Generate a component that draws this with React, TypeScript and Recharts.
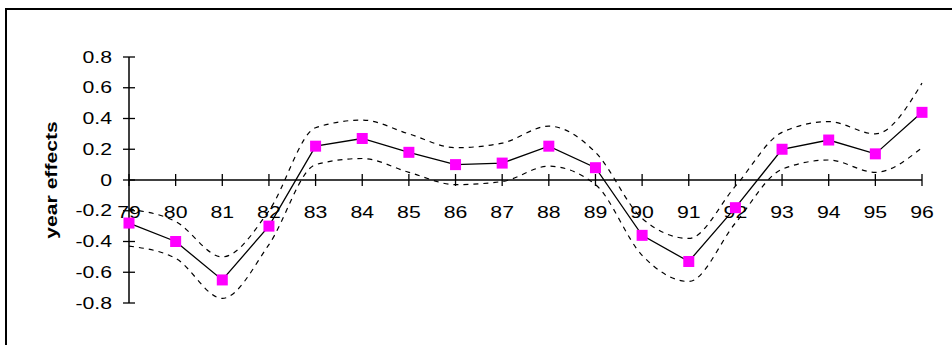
import React from "react";
import {
  LineChart,
  Line,
  XAxis,
  YAxis,
  ReferenceLine,
  ReferenceDot,
} from "recharts";

const years = [
  "79", "80", "81", "82", "83", "84", "85", "86", "87",
  "88", "89", "90", "91", "92", "93", "94", "95", "96",
];

// estimated year effect and its upper / lower band
const effect = [
  -0.28, -0.4, -0.65, -0.3, 0.22, 0.27, 0.18, 0.1, 0.11,
  0.22, 0.08, -0.36, -0.53, -0.18, 0.2, 0.26, 0.17, 0.44,
];
const upper = [
  -0.19, -0.27, -0.5, -0.2, 0.34, 0.39, 0.3, 0.21, 0.24,
  0.35, 0.18, -0.25, -0.38, -0.04, 0.31, 0.38, 0.3, 0.63,
];
const lower = [
  -0.43, -0.51, -0.77, -0.42, 0.1, 0.14, 0.05, -0.03, -0.01,
  0.09, -0.03, -0.49, -0.66, -0.28, 0.07, 0.13, 0.05, 0.21,
];

const yTicks = [-0.8, -0.6, -0.4, -0.2, 0, 0.2, 0.4, 0.6, 0.8];

const data = years.map((year, i) => ({
  year,
  effect: effect[i],
  upper: upper[i],
  lower: lower[i],
}));

const FONT = '"Liberation Sans", Arial, sans-serif';

const YTick = (props: any) => {
  const { x, y, payload } = props;
  const v = payload.value as number;
  const label = v === 0 ? "0" : v.toFixed(1);
  return (
    <g>
      <line x1={x - 6} x2={x + 6} y1={y} y2={y} stroke="#000" strokeWidth={1.3} />
      <text
        transform={`translate(${x - 17},${y}) scale(1.25,1)`}
        textAnchor="end"
        dominantBaseline="central"
        fontFamily={FONT}
        fontSize={17}
        fill="#000"
      >
        {label}
      </text>
    </g>
  );
};

// tick mark + label sitting on the zero line
const makeXTick = (label: string) => (props: any) => {
  const { cx, cy } = props;
  return (
    <g>
      <line x1={cx} x2={cx} y1={cy - 6} y2={cy + 6} stroke="#000" strokeWidth={1.3} />
      <text
        transform={`translate(${cx},${cy + 32}) scale(1.25,1)`}
        textAnchor="middle"
        dominantBaseline="central"
        fontFamily={FONT}
        fontSize={17}
        fill="#000"
      >
        {label}
      </text>
    </g>
  );
};

const SquareDot = (props: any) => {
  const { cx, cy, index } = props;
  if (cx == null || cy == null) return <g key={index} />;
  return <rect key={index} x={cx - 5.5} y={cy - 5.5} width={11} height={11} fill="#FF00FF" />;
};

const AxisTitle = (props: any) => {
  const { viewBox } = props;
  const cy = viewBox.y + viewBox.height / 2;
  return (
    <text
      transform={`translate(${viewBox.x + 51},${cy}) rotate(-90) scale(1.32,1)`}
      textAnchor="middle"
      dominantBaseline="central"
      fontFamily={FONT}
      fontWeight="bold"
      fontSize={16}
      fill="#000"
    >
      year effects
    </text>
  );
};

export default function App() {
  return (
    <div
      style={{
        position: "fixed",
        left: 0,
        top: 0,
        width: 952,
        height: 345,
        overflow: "hidden",
        background: "#fff",
      }}
    >
      <LineChart
        width={952}
        height={345}
        data={data}
        margin={{ top: 57, right: 30, bottom: 42, left: 0 }}
      >
        <XAxis dataKey="year" hide />
        <YAxis
          width={129}
          type="number"
          domain={[-0.8, 0.8]}
          ticks={yTicks}
          interval={0}
          tickSize={0}
          tickMargin={0}
          tickLine={false}
          axisLine={{ stroke: "#000", strokeWidth: 1.5 }}
          tick={<YTick />}
          label={<AxisTitle />}
        />
        <ReferenceLine y={0} stroke="#000" strokeWidth={1.5} />
        {years.map((yr) => (
          <ReferenceDot key={yr} x={yr} y={0} r={0} shape={makeXTick(yr)} />
        ))}
        <Line
          type="monotone"
          dataKey="upper"
          stroke="#000"
          strokeWidth={1.2}
          strokeDasharray="5 5"
          dot={false}
          activeDot={false}
          isAnimationActive={false}
        />
        <Line
          type="monotone"
          dataKey="lower"
          stroke="#000"
          strokeWidth={1.2}
          strokeDasharray="5 5"
          dot={false}
          activeDot={false}
          isAnimationActive={false}
        />
        <Line
          type="linear"
          dataKey="effect"
          stroke="#000"
          strokeWidth={1.3}
          dot={<SquareDot />}
          activeDot={false}
          isAnimationActive={false}
        />
      </LineChart>
      {/* outer chart frame, open to the right and bottom */}
      <div
        style={{
          position: "absolute",
          left: 5,
          top: 8,
          width: 1000,
          height: 400,
          borderTop: "2px solid #000",
          borderLeft: "2px solid #000",
          zIndex: 2,
          pointerEvents: "none",
        }}
      />
    </div>
  );
}
